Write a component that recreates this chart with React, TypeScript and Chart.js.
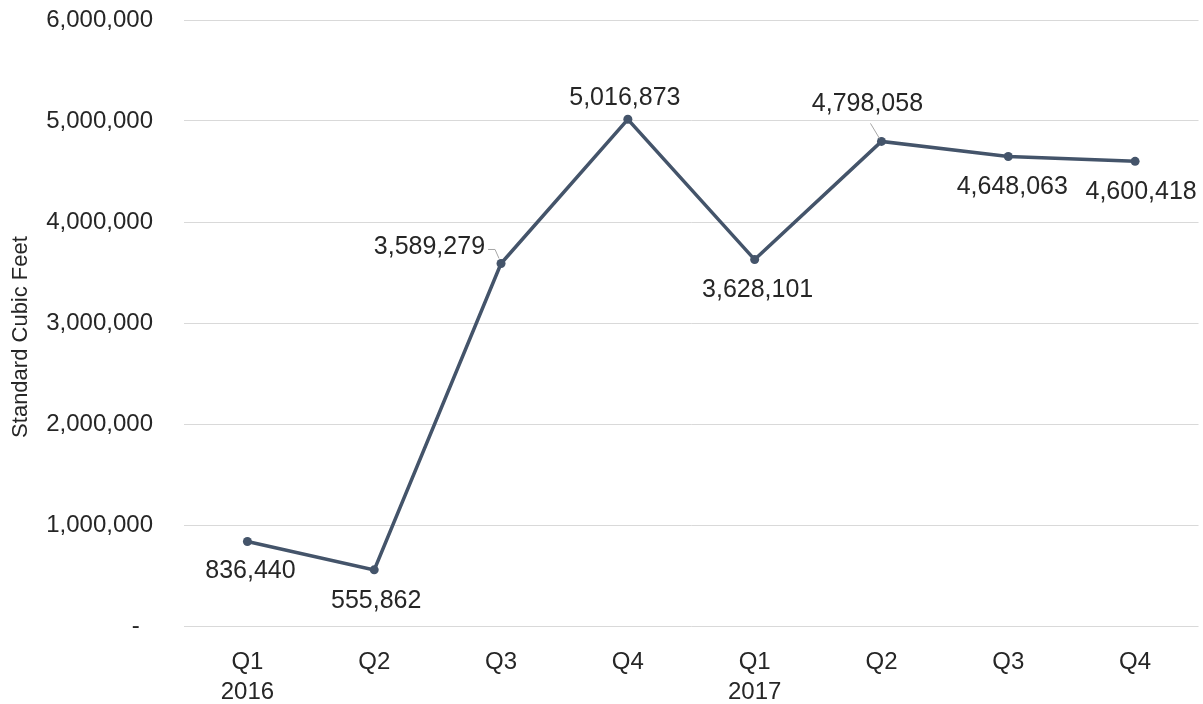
import React, { useEffect, useRef } from "react";
import { Chart, registerables } from "chart.js";

Chart.register(...registerables);

const quarters: (string | string[])[] = [["Q1", "2016"], "Q2", "Q3", "Q4", ["Q1", "2017"], "Q2", "Q3", "Q4"];
const volumes: number[] = [836440, 555862, 3589279, 5016873, 3628101, 4798058, 4648063, 4600418];
const yTickValues: number[] = [0, 1000000, 2000000, 3000000, 4000000, 5000000, 6000000];
const yAxisTitle = "Standard Cubic Feet";

// label placement relative to each point: [dx, dy, align, leader]
const labelPlacement: [number, number, CanvasTextAlign, string][] = [
  [3, 30, "center", ""],
  [2, 31, "center", ""],
  [-16, -16, "right", "elbow"],
  [-3, -21, "center", ""],
  [3, 31, "center", ""],
  [-14, -37, "center", "diag"],
  [4, 31, "center", ""],
  [6, 31, "center", ""],
];

const TEXT = "#262626";
const FONT = "'Liberation Sans', Arial, sans-serif";

const fmt = (v: number) => (v === 0 ? "-  " : v.toLocaleString("en-US"));

const labelsPlugin = {
  id: "pointLabels",
  afterDatasetsDraw(chart: any) {
    const ctx = chart.ctx;
    const meta = chart.getDatasetMeta(0);
    ctx.save();
    ctx.font = `25px ${FONT}`;
    ctx.fillStyle = TEXT;
    ctx.textBaseline = "middle";
    meta.data.forEach((pt: any, i: number) => {
      const [dx, dy, align, leader] = labelPlacement[i];
      const x = pt.x + dx;
      const y = pt.y + dy;
      ctx.textAlign = align;
      ctx.fillText(fmt(volumes[i]), x, y);
      ctx.strokeStyle = "#a6a6a6";
      ctx.lineWidth = 1;
      if (leader === "elbow") {
        ctx.beginPath();
        ctx.moveTo(x + 3, y + 2);
        ctx.lineTo(x + 10, y + 2);
        ctx.lineTo(pt.x - 2, pt.y - 5);
        ctx.stroke();
      } else if (leader === "diag") {
        ctx.beginPath();
        ctx.moveTo(x + 3, y + 19);
        ctx.lineTo(pt.x - 2, pt.y - 3);
        ctx.stroke();
      }
    });
    ctx.restore();
  },
};

const yTitlePlugin = {
  id: "yTitle",
  afterDraw(chart: any) {
    const ctx = chart.ctx;
    ctx.save();
    ctx.translate(21, 337);
    ctx.rotate(-Math.PI / 2);
    ctx.font = `22px ${FONT}`;
    ctx.fillStyle = TEXT;
    ctx.textAlign = "center";
    ctx.textBaseline = "middle";
    ctx.fillText(yAxisTitle, 0, 0);
    ctx.restore();
  },
};

export default function App() {
  const ref = useRef<HTMLCanvasElement>(null);
  useEffect(() => {
    document.body.style.margin = "0";
    const chart = new Chart(ref.current!, {
      type: "line",
      data: {
        labels: quarters as any,
        datasets: [
          {
            data: volumes,
            borderColor: "#44546A",
            backgroundColor: "#44546A",
            borderWidth: 3.5,
            pointRadius: 4.5,
            pointBackgroundColor: "#44546A",
            pointBorderWidth: 0,
            tension: 0,
          },
        ],
      },
      options: {
        animation: false,
        responsive: false,
        layout: { padding: { top: 20, right: 2, left: 0, bottom: 0 } },
        plugins: { legend: { display: false }, tooltip: { enabled: false } },
        scales: {
          x: {
            offset: true,
            grid: { display: false, drawTicks: false },
            border: { display: false },
            ticks: {
              autoSkip: false,
              maxRotation: 0,
              padding: 21,
              color: TEXT,
              font: { family: FONT, size: 24, lineHeight: 1.25 },
            },
            afterFit(scale: any) {
              scale.height = 78;
              scale.paddingLeft = 0;
              scale.paddingRight = 0;
            },
          },
          y: {
            min: 0,
            max: 6000000,
            afterBuildTicks(scale: any) {
              scale.ticks = yTickValues.map((v) => ({ value: v }));
            },
            grid: { color: "#d9d9d9", lineWidth: 1, drawTicks: false },
            border: { display: false },
            ticks: {
              padding: 31,
              color: TEXT,
              font: { family: FONT, size: 24 },
              callback: (v: any) => fmt(Number(v)),
            },
            afterFit(scale: any) {
              scale.width = 184;
              scale.paddingTop = 0;
              scale.paddingBottom = 0;
            },
          },
        },
      },
      plugins: [labelsPlugin, yTitlePlugin],
    });
    return () => chart.destroy();
  }, []);
  return <canvas ref={ref} width={1203} height={704} style={{ display: "block" }} />;
}
